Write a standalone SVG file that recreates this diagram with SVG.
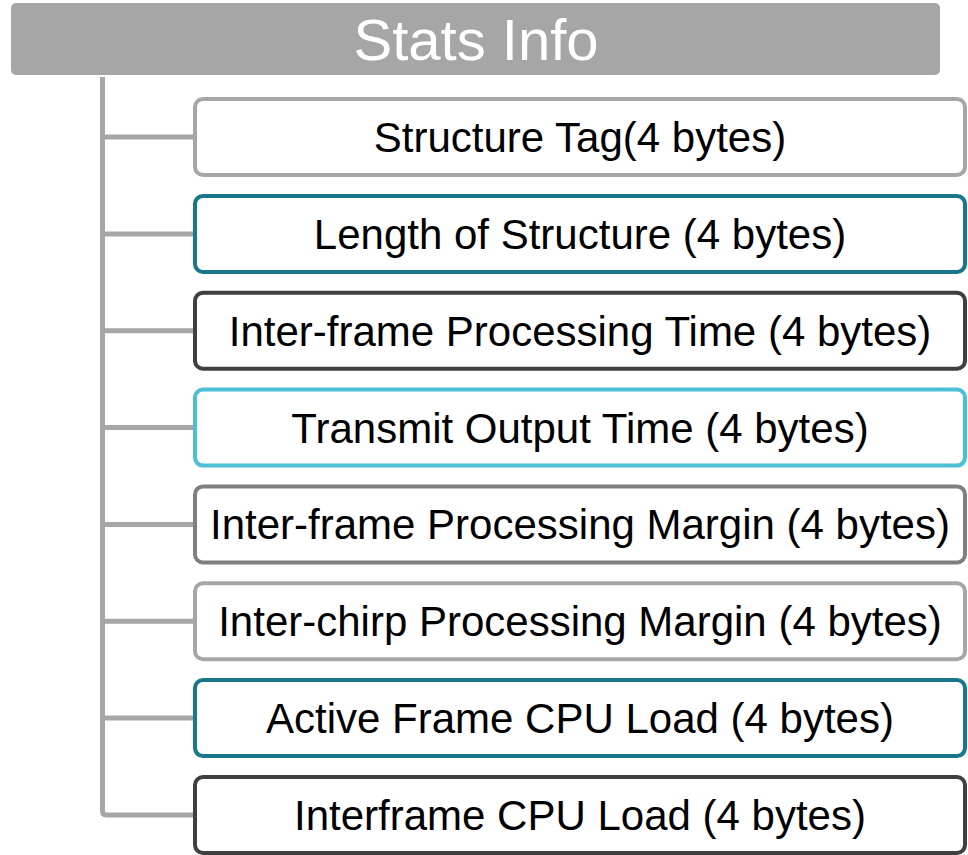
<svg xmlns="http://www.w3.org/2000/svg" width="968" height="855" viewBox="0 0 968 855">
<style>
.box{fill:#ffffff;stroke-width:4}
.lbl{font-family:"Liberation Sans",Arial,sans-serif;font-size:42px;fill:#000000;text-anchor:middle}
.ttl{font-family:"Liberation Sans",Arial,sans-serif;font-size:58px;fill:#ffffff;text-anchor:middle}
.conn{fill:none;stroke:#a6a6a6;stroke-width:5}
.c-light{stroke:#a6a6a6}
.c-teal{stroke:#18778a}
.c-dark{stroke:#404040}
.c-cyan{stroke:#4bbfd6}
.c-mid{stroke:#7f7f7f}
</style>
<rect width="968" height="855" fill="#ffffff"/>
<g id="connectors">
<path class="conn" d="M102.5 77 V811 Q102.5 815 106.5 815 H195"/>
<path class="conn" d="M102.5 137 H195"/>
<path class="conn" d="M102.5 233.9 H195"/>
<path class="conn" d="M102.5 330.7 H195"/>
<path class="conn" d="M102.5 427.6 H195"/>
<path class="conn" d="M102.5 524.4 H195"/>
<path class="conn" d="M102.5 621.3 H195"/>
<path class="conn" d="M102.5 718.1 H195"/>
</g>
<g id="header">
<rect x="11" y="3" width="929" height="72" rx="5" fill="#a6a6a6"/>
<text class="ttl" x="476" y="60">Stats Info</text>
</g>
<g id="n1">
<rect class="box c-light" x="195" y="99" width="770" height="76" rx="8"/>
<text class="lbl" x="580" y="152">Structure Tag(4 bytes)</text>
</g>
<g id="n2">
<rect class="box c-teal" x="195" y="195.9" width="770" height="76" rx="8"/>
<text class="lbl" x="580" y="248.9">Length of Structure (4 bytes)</text>
</g>
<g id="n3">
<rect class="box c-dark" x="195" y="292.7" width="770" height="76" rx="8"/>
<text class="lbl" x="580" y="345.7">Inter-frame Processing Time (4 bytes)</text>
</g>
<g id="n4">
<rect class="box c-cyan" x="195" y="389.6" width="770" height="76" rx="8"/>
<text class="lbl" x="580" y="442.6">Transmit Output Time (4 bytes)</text>
</g>
<g id="n5">
<rect class="box c-mid" x="195" y="486.4" width="770" height="76" rx="8"/>
<text class="lbl" x="580" y="539.4">Inter-frame Processing Margin (4 bytes)</text>
</g>
<g id="n6">
<rect class="box c-light" x="195" y="583.3" width="770" height="76" rx="8"/>
<text class="lbl" x="580" y="636.3">Inter-chirp Processing Margin (4 bytes)</text>
</g>
<g id="n7">
<rect class="box c-teal" x="195" y="680.1" width="770" height="76" rx="8"/>
<text class="lbl" x="580" y="733.1">Active Frame CPU Load (4 bytes)</text>
</g>
<g id="n8">
<rect class="box c-dark" x="195" y="777" width="770" height="76" rx="8"/>
<text class="lbl" x="580" y="830">Interframe CPU Load (4 bytes)</text>
</g>
</svg>
